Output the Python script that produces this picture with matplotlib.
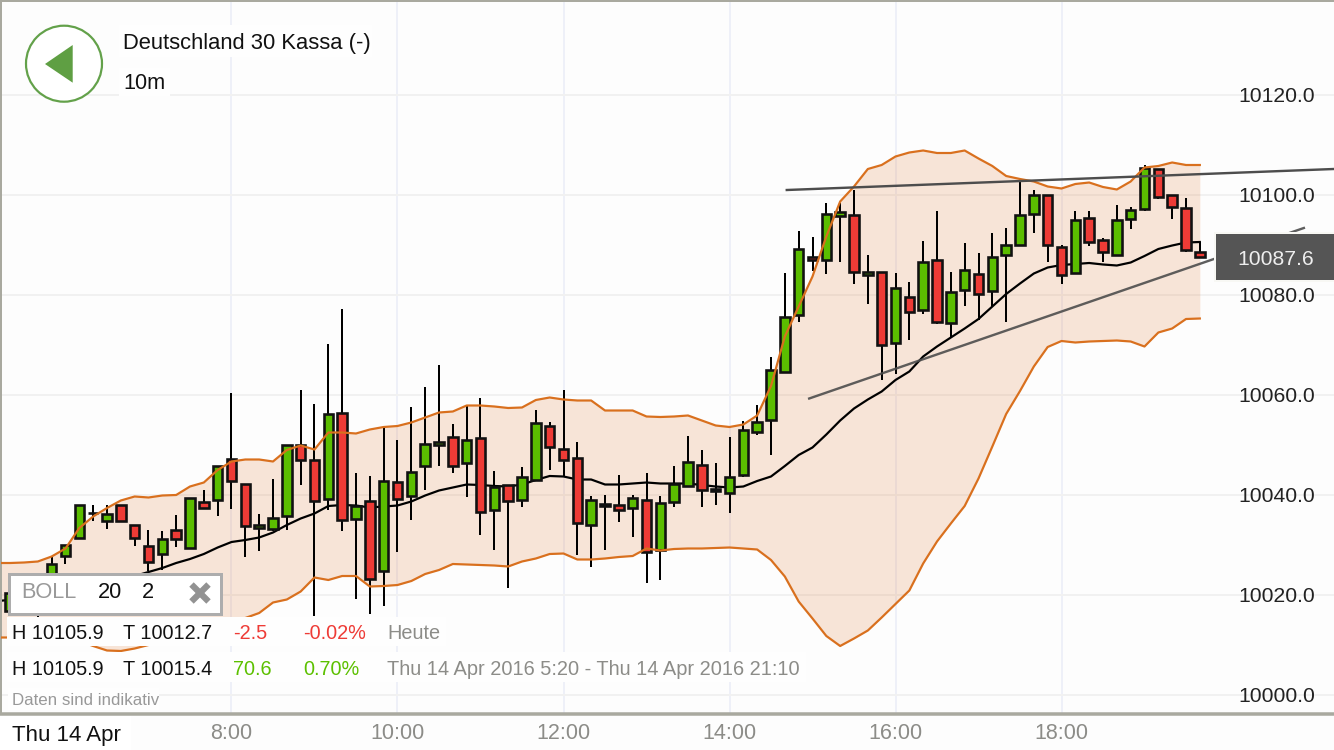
import numpy as np
import matplotlib
matplotlib.use('Agg')
import matplotlib.pyplot as plt
from matplotlib.patches import Circle, Polygon, Rectangle

plt.rcParams['font.family'] = ['Liberation Sans', 'DejaVu Sans']

BASE = 10000

# candles, 10 minute bars from 5:20, prices minus BASE
opens = [16.8, 20, 21.5, 23.4, 27.8, 31.3, 36.4, 34.7, 38, 33.9,
         29.8, 28.1, 32.9, 29.4, 38.5, 39, 47.2, 42.2, 33.3, 33.1,
         35.7, 49.9, 46.9, 39.1, 56.4, 35.2, 38.7, 24.7, 42.5, 39.7,
         45.7, 49.9, 51.5, 46.3, 51.3, 36.9, 42, 39, 43, 53.8,
         49.1, 47.3, 34, 38.3, 38, 37.3, 39, 29, 38.5, 41.8,
         46, 40.7, 40.3, 43.9, 52.5, 55, 64.5, 75.9, 87.5, 86.9,
         95.8, 95.9, 84, 84.5, 70.3, 79.6, 77, 86.9, 74.3, 80.9,
         84.1, 80.8, 87.9, 89.9, 96.1, 99.9, 89.5, 84.3, 95.3, 91,
         87.9, 95.1, 97.1, 105.1, 100, 97.4, 88.6]
highs = [21, 22.6, 24.2, 27.6, 29.9, 38, 37.9, 37.9, 38, 33.9,
         33, 32.7, 36, 39.3, 41, 45.7, 60.3, 42.2, 36.1, 43.2,
         49.9, 60.9, 58.1, 70.1, 77.2, 44.3, 43.7, 53.5, 50.9, 57.5,
         61.5, 66, 54.2, 57.8, 59.3, 44.8, 42, 45.5, 57, 54.5,
         61, 50.5, 39.8, 39.9, 43.9, 39.9, 44.3, 39.8, 45.8, 51.8,
         49, 46.3, 51.5, 54.8, 58, 67.5, 84.3, 92.8, 91.5, 98.3,
         98.4, 100.9, 88, 84.5, 84.3, 82.5, 90.8, 96.8, 84.5, 90.3,
         88.3, 92.3, 93.3, 102.7, 101, 99.9, 89.9, 96.8, 96.8, 91.3,
         98, 97.5, 105.9, 105.1, 100, 99.3, 90.6]
lows = [16, 19.4, 15.4, 22.8, 26.2, 31.3, 34.7, 33.1, 34.7, 29.8,
        24.7, 25, 29.5, 29.4, 37.3, 35.7, 37.2, 27.5, 28.7, 32.7,
        33, 41.9, 15.7, 37, 32.8, 19.2, 16.2, 17.7, 28.5, 35,
        40.9, 45.8, 44.3, 39.5, 32, 29, 21.3, 37.5, 43, 45,
        43.7, 28, 25.5, 29, 34.5, 31.5, 22.3, 22.9, 37.5, 41.6,
        37.5, 37.9, 36.3, 43.5, 52, 48, 64.5, 74.5, 84.7, 84.1,
        86.5, 82.1, 78.1, 62.9, 64.1, 70.9, 76.1, 74.1, 71.3, 77.7,
        75, 77.7, 74.6, 89.7, 92.3, 86.5, 82.1, 84.3, 89.7, 86.6,
        87.9, 93.1, 96.7, 99.1, 95.1, 88.6, 87.5]
closes = [20.4, 22, 24, 26.2, 29.9, 38, 36.4, 36.3, 34.7, 31.3,
          26.5, 31.2, 31.2, 39.3, 37.3, 45.7, 42.7, 33.7, 33.9, 35.4,
          49.9, 46.9, 38.7, 56.2, 34.9, 37.7, 23.1, 42.7, 39.1, 44.5,
          50.3, 50.5, 45.7, 51, 36.5, 41.5, 38.7, 43.5, 54.3, 49.5,
          47, 34.3, 39, 37.7, 36.9, 39.3, 28.5, 38.3, 42.1, 46.5,
          41, 41.1, 43.5, 53, 54.5, 64.9, 75.5, 89.1, 87, 96.1,
          96.6, 84.5, 84.5, 70, 81.4, 76.5, 86.6, 74.5, 80.5, 84.9,
          80.1, 87.6, 90, 95.9, 100, 89.9, 84, 94.9, 90.6, 88.5,
          94.9, 96.9, 105.4, 99.5, 97.5, 89, 87.6]

# bollinger bands, these start one bar earlier (5:10)
upper = [26.4, 26.4, 26.5, 26.7, 27.7, 29.3, 33.4, 35.7, 37.4, 38.9, 39.7,
         39.5, 39.9, 40, 41.7, 42.5, 45, 46.7, 47.1, 47.1, 46.7,
         49, 49.9, 49.1, 52.5, 52.5, 52.3, 53.1, 53.6, 53.8, 54.5,
         55.5, 56.5, 56.7, 57.9, 57.9, 57.7, 57.4, 57.5, 59, 59.5,
         59.1, 58.9, 58.9, 56.9, 56.9, 56.9, 55.7, 55.6, 55.7, 55.9,
         54.9, 53.9, 53.6, 54.1, 55.9, 61.8, 71.7, 77.7, 83.7, 91.7,
         98.7, 101.7, 105.2, 106, 107.7, 108.5, 108.9, 108.4, 108.4, 108.9,
         107.3, 105.8, 103.8, 103.2, 102.7, 101.7, 101.3, 102.2, 102.5, 101.6,
         101.1, 102.7, 105.5, 105.8, 106.5, 106, 106]
middle = [18.8, 19, 19.4, 19.8, 20.2, 20.6, 21.2, 21.8, 22.4, 23, 23.8,
          24.6, 25.4, 26.4, 27.2, 28.2, 29.5, 30.6, 31, 31.5, 32.5,
          34, 35.3, 36.3, 37.8, 38, 37.9, 37.5, 37.7, 37.9, 38.7,
          39.9, 40.9, 41.5, 42.1, 42, 41.8, 41.7, 42.1, 43, 43.8,
          43.7, 43.1, 43.1, 42.1, 42.1, 42.3, 42.5, 42.3, 42.3, 42.3,
          42, 41.7, 41.5, 41.7, 42.8, 43.7, 45.8, 48, 49.5, 52.1,
          54.9, 57.3, 59.1, 60.7, 63, 64.7, 67.7, 69.7, 71.5, 73.3,
          75.2, 77.7, 80.2, 82.3, 84.3, 85.5, 86, 86.2, 86.4, 86.1,
          85.9, 86.5, 87.8, 89.2, 89.9, 90.5, 90.6]
lower = [11.5, 11.5, 11.4, 11.4, 11.4, 11.2, 10.8, 9.8, 8.9, 8.8, 9.3,
         10, 11, 11.8, 12.4, 12.8, 13.6, 14.6, 15.4, 16.4, 18.5,
         19.1, 20.7, 23.5, 23, 23.8, 23.8, 21.7, 21.8, 22, 22.8,
         24.2, 25, 26.2, 26.1, 26, 25.9, 25.7, 26.7, 27.3, 28.2,
         28.3, 27.1, 27.1, 27.3, 27.6, 27.8, 29.3, 28.9, 29.2, 29.3,
         29.3, 29.4, 29.5, 29.3, 29.1, 27, 23.7, 18.7, 15.3, 11.8,
         9.8, 11.3, 12.9, 15.5, 18.2, 20.9, 26.3, 30.7, 34.3, 37.8,
         43.3, 49.7, 56.2, 60.8, 65.7, 69.6, 70.8, 70.5, 70.7, 70.8,
         70.9, 70.7, 69.7, 72.5, 73.3, 75.2, 75.3]

# hand drawn trend lines (hour, price)
trend_top_h = [14.69, 21.28]
trend_top_p = [10101.0, 10105.2]
trend_bot_h = [14.96, 20.92]
trend_bot_p = [10059.3, 10093.4]

y_ticks = [10000, 10020, 10040, 10060, 10080, 10100, 10120]
x_ticks = [8, 10, 12, 14, 16, 18]
x_labels = ['8:00', '10:00', '12:00', '14:00', '16:00', '18:00']

GREEN = '#5bbd00'
RED = '#ee3b36'
ORANGE = '#d9701e'
FRAME = '#a9a99f'
GREY = '#8c8c88'
PX = 72 / 100  # one pixel in points

opens, highs, lows, closes = [BASE + np.array(a) for a in (opens, highs, lows, closes)]
upper, middle, lower = [BASE + np.array(a) for a in (upper, middle, lower)]
hours = 5 + 20 / 60 + np.arange(len(opens)) / 6
band_hours = 5 + 10 / 60 + np.arange(len(upper)) / 6


def hour_at(px):
    return 8 + (px - 231.5) / 83


def price_at(py):
    return BASE + (695 - py) / 5


fig = plt.figure(figsize=(13.34, 7.5), dpi=100, facecolor='#fdfdfd')
ax = fig.add_axes([1 / 1334, (750 - 713.5) / 750, 1333 / 1334, 712.5 / 750])
ax.set_facecolor('#fdfdfd')
ax.set_xlim(hour_at(1), hour_at(1334))
ax.set_ylim(price_at(713.5), price_at(1))

ax.set_xticks(x_ticks)
ax.set_xticklabels(x_labels)
ax.set_yticks(y_ticks)
ax.set_yticklabels(['%.1f' % v for v in y_ticks])
ax.yaxis.tick_right()
ax.tick_params(axis='x', length=0, pad=7, labelsize=15.5, labelcolor=GREY)
ax.tick_params(axis='y', length=0, pad=-69, labelsize=15.2, labelcolor='#222222')
ax.xaxis.grid(True, color='#eef0f8', lw=2 * PX, zorder=0)
ax.yaxis.grid(True, color='#f1f1f1', lw=2 * PX, zorder=0)
ax.set_axisbelow(True)

for s in ['right']:
    ax.spines[s].set_visible(False)
ax.spines['left'].set_color(FRAME)
ax.spines['left'].set_linewidth(2 * PX)
ax.spines['top'].set_color(FRAME)
ax.spines['top'].set_linewidth(2 * PX)
ax.spines['bottom'].set_color(FRAME)
ax.spines['bottom'].set_linewidth(3.5 * PX)

# bands
ax.fill_between(band_hours, lower, upper, color='#e0803f', alpha=0.2, lw=0, zorder=1)
ax.plot(band_hours, middle, color='black', lw=2.2 * PX, zorder=2)

# candles
colors = [GREEN if c >= o else RED for o, c in zip(opens, closes)]
ax.vlines(hours, lows, highs, color='black', lw=2 * PX, zorder=3)
ax.bar(hours, np.abs(closes - opens), bottom=np.minimum(opens, closes), width=9.5 / 83,
       color=colors, edgecolor='#111111', linewidth=2.6 * PX, zorder=4)

ax.plot(band_hours, upper, color=ORANGE, lw=2.2 * PX, zorder=5)
ax.plot(band_hours, lower, color=ORANGE, lw=2.2 * PX, zorder=5)

ax.plot(trend_top_h, trend_top_p, color='#4d4d4d', lw=2.4 * PX, zorder=6)
ax.plot(trend_bot_h, trend_bot_p, color='#4d4d4d', lw=2.4 * PX, zorder=6, alpha=0.9)

# overlay in pixel coordinates for the app's interface parts
ui = fig.add_axes([0, 0, 1, 1], zorder=10)
ui.set_xlim(0, 1334)
ui.set_ylim(750, 0)
ui.axis('off')


def box(x0, y0, x1, y1, fc='#fefefe', ec='none', lw=0):
    ui.add_patch(Rectangle((x0, y0), x1 - x0, y1 - y0, fc=fc, ec=ec, lw=lw))


# back button
ui.add_patch(Circle((64, 63.7), 38, fc='white', ec='#63a14a', lw=2.2 * PX))
ui.add_patch(Polygon([(45, 64), (72.7, 45), (72.7, 82.7)], closed=True, fc='#5f9f43', ec='none'))

# header
box(119, 25, 372, 57)
box(119, 68, 170, 96)
ui.text(123, 49.3, 'Deutschland 30 Kassa (-)', fontsize=15.8, color='#111111')
ui.text(123, 89.3, '10m', fontsize=15.6, color='#111111')

# indicator box
box(8.5, 574, 221, 613.5, fc='white', ec='#adadad', lw=3 * PX)
ui.text(21, 598, 'BOLL', fontsize=15.7, color='#999999')
ui.text(98, 598, '20', fontsize=15.7, color='#111111')
ui.text(142, 598, '2', fontsize=15.7, color='#111111')
ui.plot([191.5, 208.5], [584.5, 601.5], color='#929292', lw=4.5, solid_capstyle='butt')
ui.plot([191.5, 208.5], [601.5, 584.5], color='#929292', lw=4.5, solid_capstyle='butt')

# stats rows
box(7, 617, 446, 646)
box(7, 652, 806, 682)
box(8, 688, 159, 710)
ui.text(12, 639, 'H 10105.9', fontsize=14.3, color='#111111')
ui.text(123, 639, 'T 10012.7', fontsize=14.3, color='#111111')
ui.text(233, 639, '-2.5', fontsize=14.3, color=RED)
ui.text(303, 639, '-0.02%', fontsize=14.3, color=RED)
ui.text(387, 639, 'Heute', fontsize=14.3, color=GREY)
ui.text(12, 675, 'H 10105.9', fontsize=14.3, color='#111111')
ui.text(123, 675, 'T 10015.4', fontsize=14.3, color='#111111')
ui.text(233, 675, '70.6', fontsize=14.3, color='#5cc000')
ui.text(303, 675, '0.70%', fontsize=14.3, color='#5cc000')
ui.text(387, 675, 'Thu 14 Apr 2016 5:20 - Thu 14 Apr 2016 21:10', fontsize=14.4, color=GREY)
ui.text(12, 705, 'Daten sind indikativ', fontsize=12.2, color='#999999')

# date at the start of the time axis
box(0, 716, 131, 750, fc='white')
ui.text(12, 741, 'Thu 14 Apr', fontsize=16, color='#111111')

# last price tag
box(1214, 231.5, 1334, 282, fc='#f8f8f4')
box(1216, 234, 1334, 279.7, fc='#555555')
ui.text(1237.7, 265, '10087.6', fontsize=15.2, color='#eeeeee')

fig.savefig('out.png', dpi=100, facecolor=fig.get_facecolor())
